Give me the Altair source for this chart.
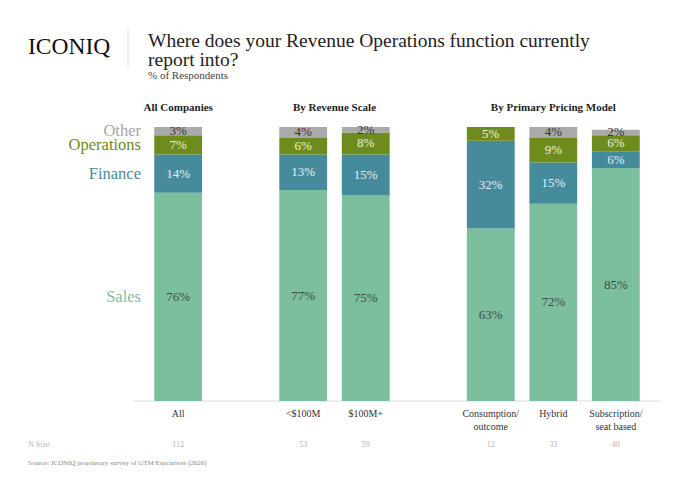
import altair as alt
import pandas as pd

# survey results, % of respondents
groups = ["All", "<$100M", "$100M+", "Consumption/outcome", "Hybrid", "Subscription/seat based"]
group_labels = ["All", "<$100M", "$100M+", "Consumption/\noutcome", "Hybrid", "Subscription/\nseat based"]
sales = [76, 77, 75, 63, 72, 85]
finance = [14, 13, 15, 32, 15, 6]
operations = [7, 6, 8, 5, 9, 6]
other = [3, 4, 2, 0, 4, 2]
n_size = [112, 53, 59, 12, 33, 40]

functions = ["Sales", "Finance", "Operations", "Other"]
headers = ["All Companies", "By Revenue Scale", "By Primary Pricing Model"]

# empty slots keep the gaps between the three groups
slots = ["All", "gap_a", "<$100M", "$100M+", "gap_b", "Consumption/outcome", "Hybrid", "Subscription/seat based"]

bar_colors = ["#7bbf9f", "#468b9b", "#6e8c1e", "#aaaaaa"]
label_colors = ["#3f4a45", "#e4f0f1", "#eef2dc", "#333333"]
legend_colors = ["#7bbf9f", "#4a8c9c", "#6b8a1a", "#a6a6a6"]

FONT = "Liberation Serif"
W, H = 528, 274
PAD_INNER, PAD_OUTER = 0.235, 0.34
STEP = W / (len(slots) - PAD_INNER + 2 * PAD_OUTER)

rows = []
for i, g in enumerate(groups):
    base = 0
    for f, vals in zip(functions, [sales, finance, operations, other]):
        v = vals[i]
        rows.append(dict(group=g, function=f, value=v, y0=base, y1=base + v,
                         mid=base + v / 2, label=f"{v}%"))
        base += v
df = pd.DataFrame(rows)
df = df[df["value"] > 0]

cats = pd.DataFrame({"group": groups, "label": group_labels, "n": [str(n) for n in n_size]})

xscale = alt.Scale(domain=slots, paddingInner=PAD_INNER, paddingOuter=PAD_OUTER)
yscale = alt.Scale(domain=[0, 100])
X = alt.X("group:N", scale=xscale, axis=None)

bars = alt.Chart(df).mark_bar().encode(
    x=X,
    y=alt.Y("y0:Q", scale=yscale, axis=None),
    y2="y1:Q",
    color=alt.Color("function:N", scale=alt.Scale(domain=functions, range=bar_colors), legend=None),
)

bar_text = alt.Chart(df).mark_text(font=FONT, fontSize=13).encode(
    x=X,
    y=alt.Y("mid:Q", scale=yscale, axis=None),
    text="label:N",
    color=alt.Color("function:N", scale=alt.Scale(domain=functions, range=label_colors), legend=None),
)

legend_text = alt.Chart(df[df["group"] == "All"]).mark_text(
    font=FONT, fontSize=16.5, align="right"
).encode(
    x=alt.value(8),
    y=alt.Y("mid:Q", scale=yscale, axis=None),
    text="function:N",
    color=alt.Color("function:N", scale=alt.Scale(domain=functions, range=legend_colors), legend=None),
)

baseline = alt.Chart(pd.DataFrame({"a": [0]})).mark_rule(color="#dcdcdc", strokeWidth=1).encode(
    x=alt.value(0), x2=alt.value("width"), y=alt.value("height")
)

x_labels = alt.Chart(cats).mark_text(
    font=FONT, fontSize=10, baseline="top", lineBreak="\n", lineHeight=13, color="#333333"
).encode(x=X, y=alt.value(282), text="label:N")

n_labels = alt.Chart(cats).mark_text(font=FONT, fontSize=8, color="#b5b5b5").encode(
    x=X, y=alt.value(318), text="n:N"
)

# headers centred over their group of bars
head_df = pd.DataFrame({"group": ["All", "<$100M", "Hybrid"], "title": headers})
head_a = alt.Chart(head_df[head_df["group"] != "<$100M"]).mark_text(
    font=FONT, fontSize=11, fontWeight="bold", color="#222222"
).encode(x=X, y=alt.value(-19.5), text="title:N")
head_b = alt.Chart(head_df[head_df["group"] == "<$100M"]).mark_text(
    font=FONT, fontSize=11, fontWeight="bold", color="#222222", dx=STEP * PAD_INNER / 2
).encode(
    x=alt.X("group:N", scale=xscale, axis=None, bandPosition=1),
    y=alt.value(-19.5), text="title:N",
)


def static_text(t, x, y, **kw):
    return alt.Chart(pd.DataFrame({"t": [t]})).mark_text(font=FONT, align="left", **kw).encode(
        text="t:N", x=alt.value(x), y=alt.value(y)
    )


logo = static_text("ICONIQ", -105, -73.5, fontSize=23.5, color="#111111", baseline="alphabetic")
divider = alt.Chart(pd.DataFrame({"a": [0]})).mark_rule(color="#e2e2e2").encode(
    x=alt.value(-5), y=alt.value(-99), y2=alt.value(-59)
)
title1 = static_text("Where does your Revenue Operations function currently", 15, -80,
                     fontSize=19.5, color="#222222", baseline="alphabetic")
title2 = static_text("report into?", 15, -61, fontSize=19.5, color="#222222", baseline="alphabetic")
subtitle = static_text("% of Respondents", 15, -48, fontSize=11, color="#444444", baseline="alphabetic")
n_title = static_text("N Size", -105, 318, fontSize=8, color="#b5b5b5")
source = static_text("Source: ICONIQ proprietary survey of GTM Executives (2026)", -105, 336,
                     fontSize=7, color="#8a8a8a")

chart = alt.layer(
    baseline, bars, bar_text, legend_text, x_labels, n_labels, head_a, head_b,
    logo, divider, title1, title2, subtitle, n_title, source,
).resolve_scale(color="independent").properties(
    width=W, height=H,
    padding={"left": 125, "top": 119, "right": 11, "bottom": 84},
    autosize=alt.AutoSizeParams(type="none"),
    background="white",
).configure_view(stroke=None)

chart.save("out.html", embed_options={"renderer": "svg", "actions": False})
